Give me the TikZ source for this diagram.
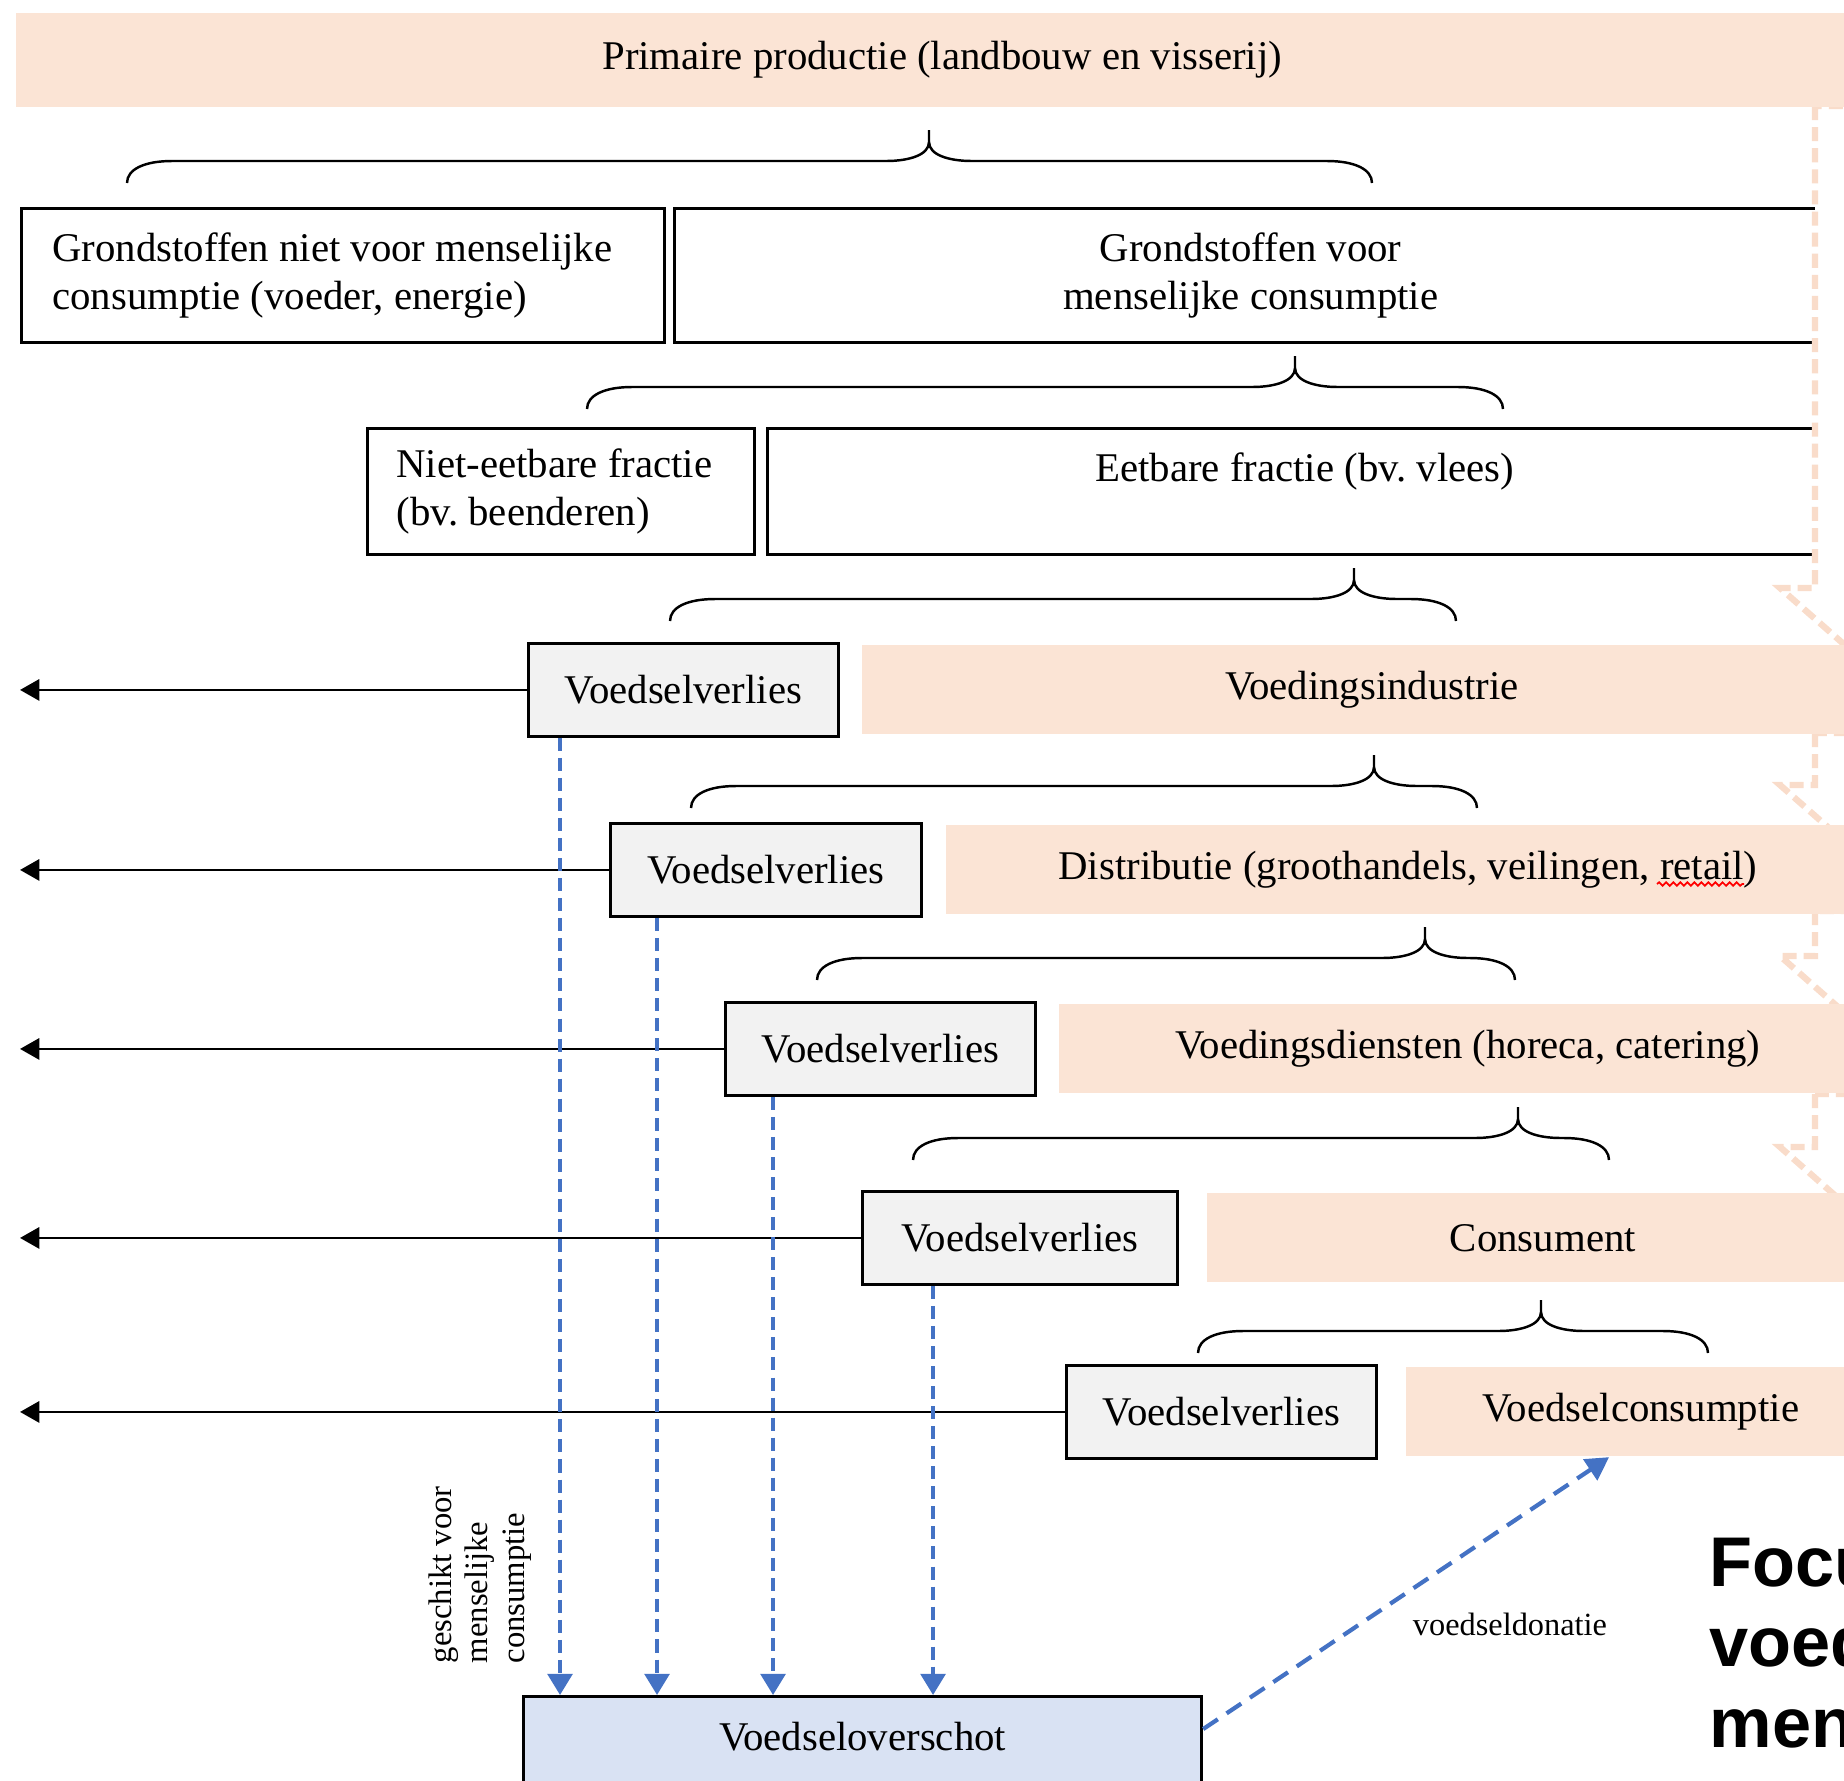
\documentclass[tikz,border=0pt]{standalone}
\usepackage{fontspec}
\setmainfont{Liberation Serif}
\newfontfamily\focusfont{Liberation Sans}
\usetikzlibrary{positioning}
\usetikzlibrary{arrows.meta}
\usetikzlibrary{decorations.pathmorphing}
\definecolor{stagepeach}{HTML}{FBE4D5}
\definecolor{stageline}{HTML}{F9DCCA}
\definecolor{lossgrey}{HTML}{F2F2F2}
\definecolor{surplusfill}{HTML}{D9E2F3}
\definecolor{surplusblue}{HTML}{4472C4}
\frenchspacing

\begin{document}
\begin{tikzpicture}[x=0.01cm, y=-0.01cm,
    body/.style={font=\fontsize{11.6}{13.7}\selectfont},
    stage/.style={body, rectangle, fill=stagepeach, inner sep=0pt, minimum height=0.89cm},
    raw/.style={body, rectangle, draw=black, line width=0.8pt, fill=white, anchor=north west, inner sep=0pt},
    loss/.style={body, rectangle, draw=black, line width=0.8pt, fill=lossgrey, anchor=north west, inner sep=0pt, minimum width=3.1cm, minimum height=0.93cm},
    surplus/.style={rectangle, draw=black, line width=0.8pt, fill=surplusfill, anchor=north west, inner sep=0pt},
    lossarrow/.style={-{Triangle[width=6pt, length=5.5pt]}, line width=0.8pt},
    droparrow/.style={-{Triangle[width=7pt, length=6pt]}, surplusblue, line width=1.1pt, dash pattern=on 3.7pt off 2pt},
    donation/.style={-{Triangle[width=7pt, length=6.5pt]}, surplusblue, line width=1.2pt, dash pattern=on 5pt off 3pt},
    brace/.style={line width=0.7pt},
    backflow/.style={draw=stageline, fill=white, line width=1.8pt, dash pattern=on 4pt off 2pt},
    spellcheck/.style={red, line width=0.5pt, decorate, decoration={snake, amplitude=0.5pt, segment length=2pt}},
    ]
    \useasboundingbox (0,0) rectangle (1844,1781);

    % raw materials and fractions
    \node[raw, minimum height=1.34cm, text width=5.81cm, inner xsep=0.31cm, align=flush left] (nonfood) at (20,207)
        {Grondstoffen niet voor menselijke\\consumptie (voeder, energie)};
    \node[raw, minimum width=11.52cm, minimum height=1.34cm, align=center] (food) at (673,207)
        {Grondstoffen voor\\menselijke consumptie};
    \node[raw, minimum height=1.26cm, text width=3.29cm, inner xsep=0.29cm, align=flush left] (inedible) at (366,427)
        {Niet-eetbare fractie\\(bv. beenderen)};
    \node[raw, minimum width=10.74cm, minimum height=1.26cm, align=center] (edible) at (766,427)
        {Eetbare fractie (bv. vlees)\\\mbox{}};

    % faint arrows on the right edge
    \foreach \top/\sh in {106/588, 733/785, 911/956, 1094/1147}
        \filldraw[backflow] (1815,\top) -- (1815,\sh) -- (1780,\sh) -- (1905,{\sh+110}) -- (2030,\sh)
            -- (1995,\sh) -- (1995,\top) -- cycle;

    \node[stage, anchor=north west, minimum width=18.52cm, minimum height=0.94cm] (primary) at (15,12)
        {Primaire productie (landbouw en visserij)};

    % chain
    \node[loss] (loss1) at (527,642) {Voedselverlies};
    \node[stage, right=0.21cm of loss1, minimum width=10.2cm] (industry) {Voedingsindustrie};
    \node[loss, minimum width=3.11cm] (loss2) at (609,822) {Voedselverlies};
    \node[stage, right=0.22cm of loss2, minimum width=9.24cm] (distribution) {Distributie (groothandels, veilingen, retail)};
    \node[loss] (loss3) at (724,1001) {Voedselverlies};
    \node[stage, right=0.21cm of loss3, minimum width=8.18cm] (services) {Voedingsdiensten (horeca, catering)};
    \node[loss, minimum width=3.15cm] (loss4) at (861,1190) {Voedselverlies};
    \node[stage, right=0.27cm of loss4, minimum width=6.72cm] (consumer) {Consument};
    \node[loss] (loss5) at (1065,1364) {Voedselverlies};
    \node[stage, right=0.27cm of loss5, minimum width=4.7cm] (eating) {Voedselconsumptie};

    \draw[spellcheck] (1657,884) -- (1744,884);

    % braces
    \foreach \a/\t/\b/\y in {127/929/1372/161, 587/1295/1503/387, 670/1354/1456/599, 691/1374/1477/786,
                             817/1425/1515/958, 913/1518/1609/1138, 1198/1541/1708/1331}
        \draw[brace] (\a,{\y+22}) .. controls (\a,{\y+8}) and ({\a+18},\y) .. ({\a+45},\y) -- ({\t-43},\y)
            .. controls ({\t-20},\y) and (\t,{\y-6}) .. (\t,{\y-19}) -- (\t,{\y-31})
            (\t,{\y-19}) .. controls (\t,{\y-6}) and ({\t+20},\y) .. ({\t+43},\y) -- ({\b-45},\y)
            .. controls ({\b-18},\y) and (\b,{\y+8}) .. (\b,{\y+22});

    % surplus
    \node[surplus, minimum width=6.78cm, minimum height=1.2cm] (surplus) at (522,1695) {};
    \node[body] (surplustext) at ([yshift=-0.42cm]surplus.north) {Voedseloverschot};

    \coordinate (leftend) at (20,0);
    \foreach \i in {1,...,5}
        \draw[lossarrow] (loss\i.west) -- (loss\i.west -| leftend);

    \foreach \i/\dx in {1/0.33, 2/0.48, 3/0.49, 4/0.72} {
        \coordinate (drop\i) at ([xshift=\dx cm]loss\i.south west);
        \draw[droparrow] (drop\i) -- (drop\i |- surplus.north);
    }

    \draw[donation] ([yshift=-0.34cm]surplus.north east) -- ([xshift=2.04cm]eating.south west);
    \node[font=\fontsize{9.2}{11}\selectfont] (donationlabel) at (1510,1624) {voedseldonatie};

    \node[rotate=90, anchor=west, align=flush left, inner sep=0pt, font=\fontsize{9.3}{10.4}\selectfont] (suitable) at (480,1664)
        {geschikt voor\\menselijke\\consumptie};

    \node[font=\focusfont\bfseries\fontsize{20}{23}\selectfont, anchor=north west, align=left, inner sep=0pt] (focus) at (1709,1537)
        {Focu\\voed\\men};
\end{tikzpicture}
\end{document}
